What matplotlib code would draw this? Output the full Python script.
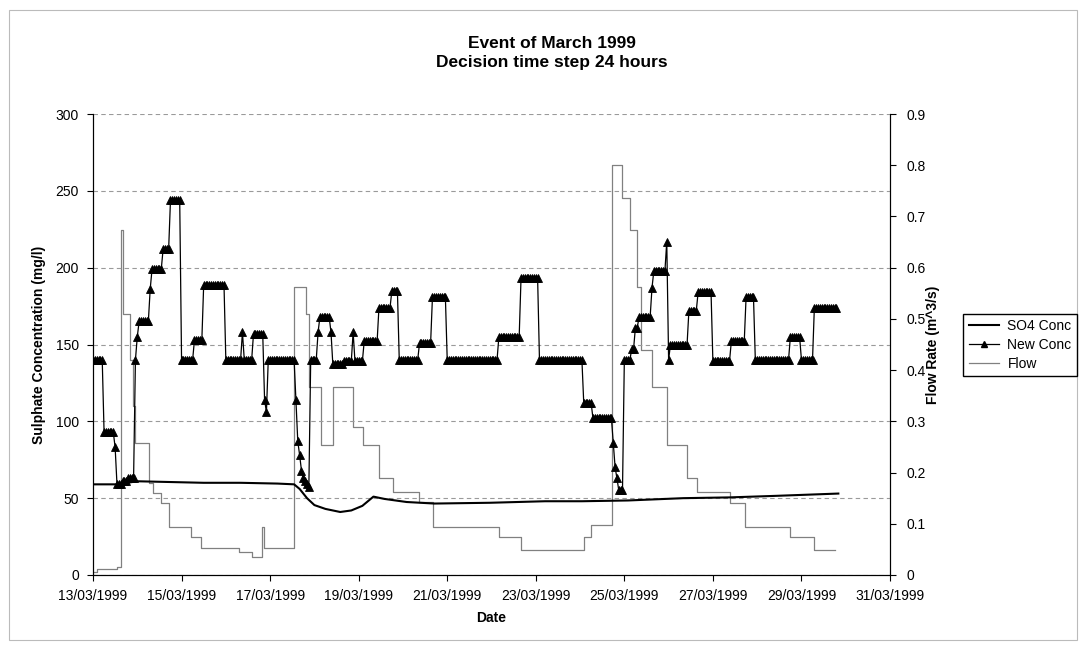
import numpy as np
import matplotlib
matplotlib.use('Agg')
import matplotlib.pyplot as plt
import matplotlib.dates as mdates
from matplotlib.lines import Line2D
from matplotlib.patches import Rectangle
from matplotlib.ticker import FuncFormatter, MultipleLocator

plt.rcParams['font.family'] = ['Liberation Sans', 'DejaVu Sans']

start = np.datetime64('1999-03-13T00:00')

# New Conc, one value per hour, given as (hours held, level) blocks
new_conc_hours = [6, 6, 1, 3, 3, 4, 1, 1, 6, 1, 6, 4, 6, 7, 5, 12, 9, 1, 5, 6,
                  1, 1, 15, 1, 1, 1, 1, 1, 1, 1, 1, 4, 1, 6, 1, 6, 5, 1, 5, 8,
                  7, 4, 11, 7, 8, 28, 12, 10, 24, 5, 11, 1, 1, 1, 3, 4, 2, 2, 7, 1,
                  7, 1, 1, 10, 5, 8, 10, 8, 5, 19, 6, 7, 13]
new_conc_levels = [140, 93, 83, 59, 61, 63, 140, 155, 165, 186, 199, 212, 244, 140, 153, 189, 140, 158, 140, 157,
                   114, 106, 140, 114, 87, 78, 68, 63, 61, 59, 57, 140, 158, 168, 158, 137, 139, 158, 139, 152,
                   174, 185, 140, 151, 181, 140, 155, 193, 140, 112, 102, 86, 70, 63, 55, 140, 147, 161, 168, 187,
                   198, 217, 140, 150, 172, 184, 139, 152, 181, 140, 155, 140, 174]

# SO4 Conc (mg/l) against hours from the start of the event
so4_hours = [0, 13, 24, 60, 80, 100, 109, 112, 116, 120, 126, 134, 140, 146, 152, 158,
             170, 185, 215, 245, 265, 290, 320, 345, 370, 404]
so4_values = [59, 59, 61, 60, 60, 59.5, 59, 56, 50, 45.5, 43, 41, 42, 45, 51, 49.5,
              47.5, 46.5, 47, 48, 48, 48.5, 50, 50.5, 51.5, 53]

# Flow (m^3/s), each value holds from its start hour to the next one
flow_hours = [0, 2, 13, 15, 16, 20, 21.5, 23, 30.4, 32.6, 36.9, 41.2, 53.2, 58.6,
              79, 86, 91.5, 92.5, 109, 115.6, 117, 123.7, 130.2, 141, 146.5, 155.2,
              162.8, 176.9, 184.5, 220.3, 232.2, 265.9, 270.2, 281.5, 286.7, 291,
              294.8, 297, 303, 311, 322, 327.6, 345.3, 353.4, 377.8, 390.8, 402]
flow_values = [0.005, 0.012, 0.016, 0.674, 0.51, 0.42, 0.33, 0.258, 0.18, 0.16, 0.14,
               0.094, 0.074, 0.052, 0.045, 0.035, 0.094, 0.052, 0.562, 0.51, 0.367,
               0.254, 0.367, 0.289, 0.254, 0.19, 0.162, 0.142, 0.094, 0.074, 0.049,
               0.074, 0.098, 0.80, 0.736, 0.674, 0.562, 0.44, 0.367, 0.254, 0.19,
               0.162, 0.14, 0.094, 0.074, 0.049, 0.049]


def to_dates(hours):
    minutes = np.round(np.asarray(hours, dtype=float) * 60).astype(int)
    return start + minutes.astype('timedelta64[m]')


new_conc = np.repeat(new_conc_levels, new_conc_hours)
new_conc_t = to_dates(np.arange(len(new_conc)))

fig = plt.figure(figsize=(10.85, 6.46), dpi=100)
fig.patches.append(Rectangle((0.008, 0.01), 0.985, 0.975, transform=fig.transFigure,
                             fill=False, edgecolor='#bbbbbb', linewidth=0.8))

ax = fig.add_axes([93 / 1085, 71 / 646, 797 / 1085, 461 / 646])
ax2 = ax.twinx()

ax.plot(to_dates(so4_hours), so4_values, color='black', lw=1.5, zorder=3)
ax.plot(new_conc_t, new_conc, color='black', lw=0.9, marker='^', ms=6,
        markeredgewidth=0.6, zorder=4)
ax2.plot(to_dates(flow_hours), flow_values, color='#808080', lw=0.9,
         drawstyle='steps-post')
ax.set_zorder(ax2.get_zorder() + 1)
ax.patch.set_visible(False)

ax.set_xlim(np.datetime64('1999-03-13'), np.datetime64('1999-03-31'))
ax.set_ylim(0, 300)
ax2.set_ylim(0, 0.9)
ax.yaxis.set_major_locator(MultipleLocator(50))
ax2.yaxis.set_major_locator(MultipleLocator(0.1))
ax2.yaxis.set_major_formatter(FuncFormatter(lambda v, p: '%g' % round(v, 2)))
ax.xaxis.set_major_locator(mdates.DayLocator(interval=2))
ax.xaxis.set_major_formatter(mdates.DateFormatter('%d/%m/%Y'))

ax.yaxis.grid(True, linestyle=(0, (4, 3)), color='#9a9a9a', lw=0.8)
for a in (ax, ax2):
    a.spines['top'].set_visible(False)
    a.tick_params(direction='out', length=4, width=0.8, labelsize=10)
ax.tick_params(axis='y', pad=6)
ax.tick_params(axis='x', pad=6)
ax2.tick_params(axis='y', pad=8)

ax.set_xlabel('Date', fontsize=10, fontweight='bold', labelpad=6)
ax.set_ylabel('Sulphate Concentration (mg/l)', fontsize=10, fontweight='bold', labelpad=7)
ax2.set_ylabel('Flow Rate (m^3/s)', fontsize=10, fontweight='bold', labelpad=0)

fig.text(552 / 1085, 1 - 43 / 646, 'Event of March 1999', ha='center', va='center',
         fontsize=12.5, fontweight='bold')
fig.text(552 / 1085, 1 - 63 / 646, 'Decision time step 24 hours', ha='center', va='center',
         fontsize=12.5, fontweight='bold')

handles = [Line2D([], [], color='black', lw=1.5),
           Line2D([], [], color='black', lw=0.9, marker='^', ms=5),
           Line2D([], [], color='#808080', lw=0.9)]
fig.legend(handles, ['SO4 Conc', 'New Conc', 'Flow'], loc='center left',
           bbox_to_anchor=(956 / 1085, 1 - 345 / 646), fontsize=10, frameon=True,
           fancybox=False, edgecolor='black', framealpha=1, borderpad=0.4,
           handlelength=2.2, labelspacing=0.35, handletextpad=0.6)

fig.savefig('out.png', dpi=100)
